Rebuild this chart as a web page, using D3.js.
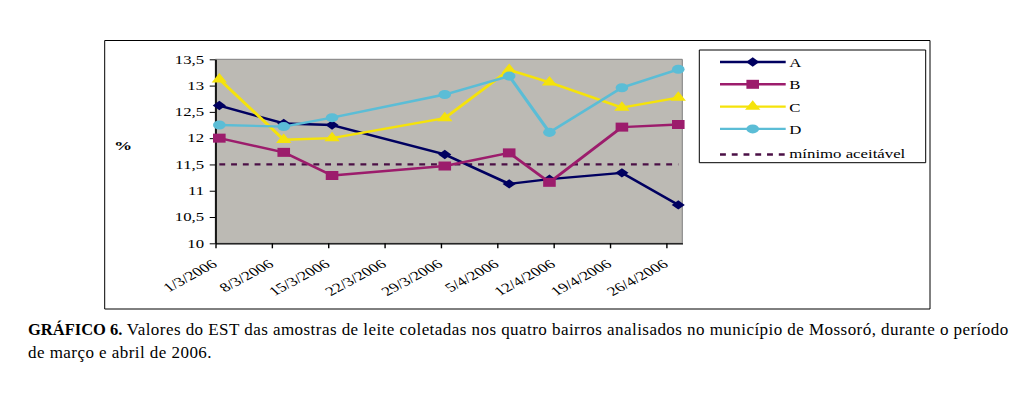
<!DOCTYPE html>
<html>
<head>
<meta charset="utf-8">
<script src="https://cdn.jsdelivr.net/npm/d3@7"></script>
<style>
  body { margin: 0; background: #fff; }
  svg { display: block; }
</style>
</head>
<body>
<div id="chart"></div>
<script>
// sample dates (d/m/yyyy)
const dates = ["1/3/2006", "9/3/2006", "15/3/2006", "29/3/2006", "6/4/2006", "11/4/2006", "20/4/2006", "27/4/2006"];

const valuesA = [12.62, 12.28, 12.25, 11.69, 11.13, 11.22, 11.34, 10.73];
const valuesB = [12.00, 11.73, 11.29, 11.47, 11.72, 11.16, 12.21, 12.26];
const valuesC = [13.12, 11.97, 12.00, 12.38, 13.30, 13.06, 12.58, 12.77];
const valuesD = [12.25, 12.22, 12.39, 12.83, 13.18, 12.11, 12.96, 13.31];
const minimo = 11.5;

const seriesNames = ["A", "B", "C", "D"];
const minLabel = "mínimo aceitável";

const xTickLabels = ["1/3/2006", "8/3/2006", "15/3/2006", "22/3/2006", "29/3/2006", "5/4/2006", "12/4/2006", "19/4/2006", "26/4/2006"];
const yTicks = [10, 10.5, 11, 11.5, 12, 12.5, 13, 13.5];

const captionBold = "GRÁFICO 6.";
const captionLine1 = " Valores do EST das amostras de leite coletadas nos quatro bairros analisados no município de Mossoró, durante o período";
const captionLine2 = "de março e abril de 2006.";

const parse = d3.timeParse("%d/%m/%Y");
const serif = "'Liberation Serif', 'DejaVu Serif', serif";
const colors = { A: "#000060", B: "#9c1c6c", C: "#f5e30a", D: "#5bbdd6" };
const shapes = { A: "diamond", B: "square", C: "triangle", D: "circle" };
const minColor = "#4b1046";

const series = seriesNames.map((name, i) => ({
  name: name,
  values: [valuesA, valuesB, valuesC, valuesD][i].map((v, j) => ({ date: parse(dates[j]), value: v }))
}));

// the original picture is stretched sideways, so the chart part is drawn in a scaled group
const sx = 1.4;

const svg = d3.select("#chart").append("svg")
  .attr("width", 1034)
  .attr("height", 398)
  .attr("font-family", serif);

const g = svg.append("g")
  .attr("transform", "scale(" + sx + ",1)");

// outer frame
g.append("rect")
  .attr("x", 104.7 / sx).attr("y", 40.5)
  .attr("width", (930 - 104.7) / sx).attr("height", 268.5)
  .attr("fill", "none").attr("stroke", "#000").attr("stroke-width", 1)
  .attr("vector-effect", "non-scaling-stroke");

const plotLeft = 215.3 / sx, plotRight = 682.3 / sx, plotTop = 59.3, plotBottom = 243.3;

const x = d3.scaleTime()
  .domain([parse("1/3/2006"), parse("28/4/2006")])
  .range([plotLeft, plotRight]);

const y = d3.scaleLinear()
  .domain([10, 13.5])
  .range([plotBottom, plotTop]);

const halfDay = (x(parse("2/3/2006")) - x(parse("1/3/2006"))) / 2;

// plot area
g.append("rect")
  .attr("x", plotLeft).attr("y", plotTop)
  .attr("width", plotRight - plotLeft).attr("height", plotBottom - plotTop)
  .attr("fill", "#bcbab4")
  .attr("stroke", "#7f7f7f").attr("stroke-width", 1)
  .attr("vector-effect", "non-scaling-stroke");

// y axis
const yAxis = g.append("g")
  .attr("transform", "translate(" + plotLeft + ",0)")
  .call(d3.axisLeft(y).tickValues(yTicks).tickSize(4).tickSizeOuter(0).tickPadding(4)
    .tickFormat(d => String(d).replace(".", ",")));
yAxis.attr("font-family", serif).attr("font-size", 12);
yAxis.select(".domain").attr("stroke", "#000").attr("stroke-width", 1.2);
yAxis.selectAll(".tick line").attr("stroke", "#000").attr("stroke-width", 1);
yAxis.selectAll("text").attr("fill", "#000");

// x axis
const xAxis = g.append("g")
  .attr("transform", "translate(0," + plotBottom + ")")
  .call(d3.axisBottom(x).tickValues(xTickLabels.map(parse)).tickSize(5).tickSizeOuter(0)
    .tickFormat((d, i) => xTickLabels[i]));
xAxis.attr("font-family", serif).attr("font-size", 12.5);
xAxis.select(".domain").attr("stroke", "#000").attr("stroke-width", 1.2);
xAxis.selectAll(".tick line").attr("stroke", "#000").attr("stroke-width", 1);
xAxis.selectAll("text")
  .attr("fill", "#000")
  .attr("text-anchor", "end")
  .attr("x", 0).attr("y", 0).attr("dy", "0.35em")
  .attr("transform", "translate(-1,19) rotate(-37)");

// % label
g.append("text")
  .attr("x", 123 / sx).attr("y", 150)
  .attr("text-anchor", "middle")
  .attr("font-size", 13)
  .attr("font-weight", "bold")
  .text("%");

// minimum line
const firstDate = parse(dates[0]), lastDate = parse(dates[dates.length - 1]);
g.append("line")
  .attr("x1", x(firstDate) + halfDay).attr("x2", x(lastDate) + halfDay)
  .attr("y1", y(minimo)).attr("y2", y(minimo))
  .attr("stroke", minColor).attr("stroke-width", 2.3)
  .attr("stroke-dasharray", "4.2,4.2");

const symbolPath = {
  diamond: d3.symbol().type(d3.symbolSquare).size(44)(),
  square: d3.symbol().type(d3.symbolSquare).size(81)(),
  triangle: d3.symbol().type(d3.symbolTriangle).size(52)(),
  circle: d3.symbol().type(d3.symbolCircle).size(64)()
};
const symbolRot = { diamond: 45, square: 0, triangle: 0, circle: 0 };

const line = d3.line()
  .x(d => x(d.date) + halfDay)
  .y(d => y(d.value));

series.forEach(s => {
  g.append("path")
    .datum(s.values)
    .attr("d", line)
    .attr("fill", "none")
    .attr("stroke", colors[s.name])
    .attr("stroke-width", 2.4)
    .attr("stroke-linejoin", "round");

  g.append("g").selectAll("path")
    .data(s.values)
    .enter().append("path")
    .attr("d", symbolPath[shapes[s.name]])
    .attr("transform", d => "translate(" + (x(d.date) + halfDay) + "," + y(d.value) + ") rotate(" + symbolRot[shapes[s.name]] + ")")
    .attr("fill", colors[s.name]);
});

// legend
const legendX = 699.3 / sx, legendW = (925.7 - 699.3) / sx;
g.append("rect")
  .attr("x", legendX).attr("y", 50)
  .attr("width", legendW).attr("height", 112.7)
  .attr("fill", "#fff").attr("stroke", "#000").attr("stroke-width", 1)
  .attr("vector-effect", "non-scaling-stroke");

const rowY = [62, 84.3, 106.6, 128.9, 154.5];
const lineX1 = 720 / sx, lineX2 = 785.7 / sx, markX = 752.7 / sx, labelX = 789.3 / sx;

series.forEach((s, i) => {
  const item = g.append("g");
  item.append("line")
    .attr("x1", lineX1).attr("x2", lineX2)
    .attr("y1", rowY[i]).attr("y2", rowY[i])
    .attr("stroke", colors[s.name]).attr("stroke-width", 2.4);
  item.append("path")
    .attr("d", symbolPath[shapes[s.name]])
    .attr("transform", "translate(" + markX + "," + rowY[i] + ") rotate(" + symbolRot[shapes[s.name]] + ")")
    .attr("fill", colors[s.name]);
  item.append("text")
    .attr("x", labelX).attr("y", rowY[i] + 5)
    .attr("font-size", 12)
    .text(s.name);
});

g.append("line")
  .attr("x1", lineX1).attr("x2", lineX2)
  .attr("y1", rowY[4]).attr("y2", rowY[4])
  .attr("stroke", minColor).attr("stroke-width", 2.3)
  .attr("stroke-dasharray", "4.2,4.2");
g.append("text")
  .attr("x", labelX).attr("y", rowY[4] + 4)
  .attr("font-size", 12)
  .text(minLabel);

// caption (not stretched)
const cap = svg.append("text")
  .attr("x", 28).attr("y", 335)
  .attr("font-size", 17)
  .attr("letter-spacing", 0.45);
cap.append("tspan").attr("font-weight", "bold").attr("font-size", 16.5).attr("letter-spacing", 0).text(captionBold);
cap.append("tspan").text(captionLine1);

svg.append("text")
  .attr("x", 28).attr("y", 358)
  .attr("font-size", 17)
  .attr("letter-spacing", 0.45)
  .text(captionLine2);
</script>
</body>
</html>
